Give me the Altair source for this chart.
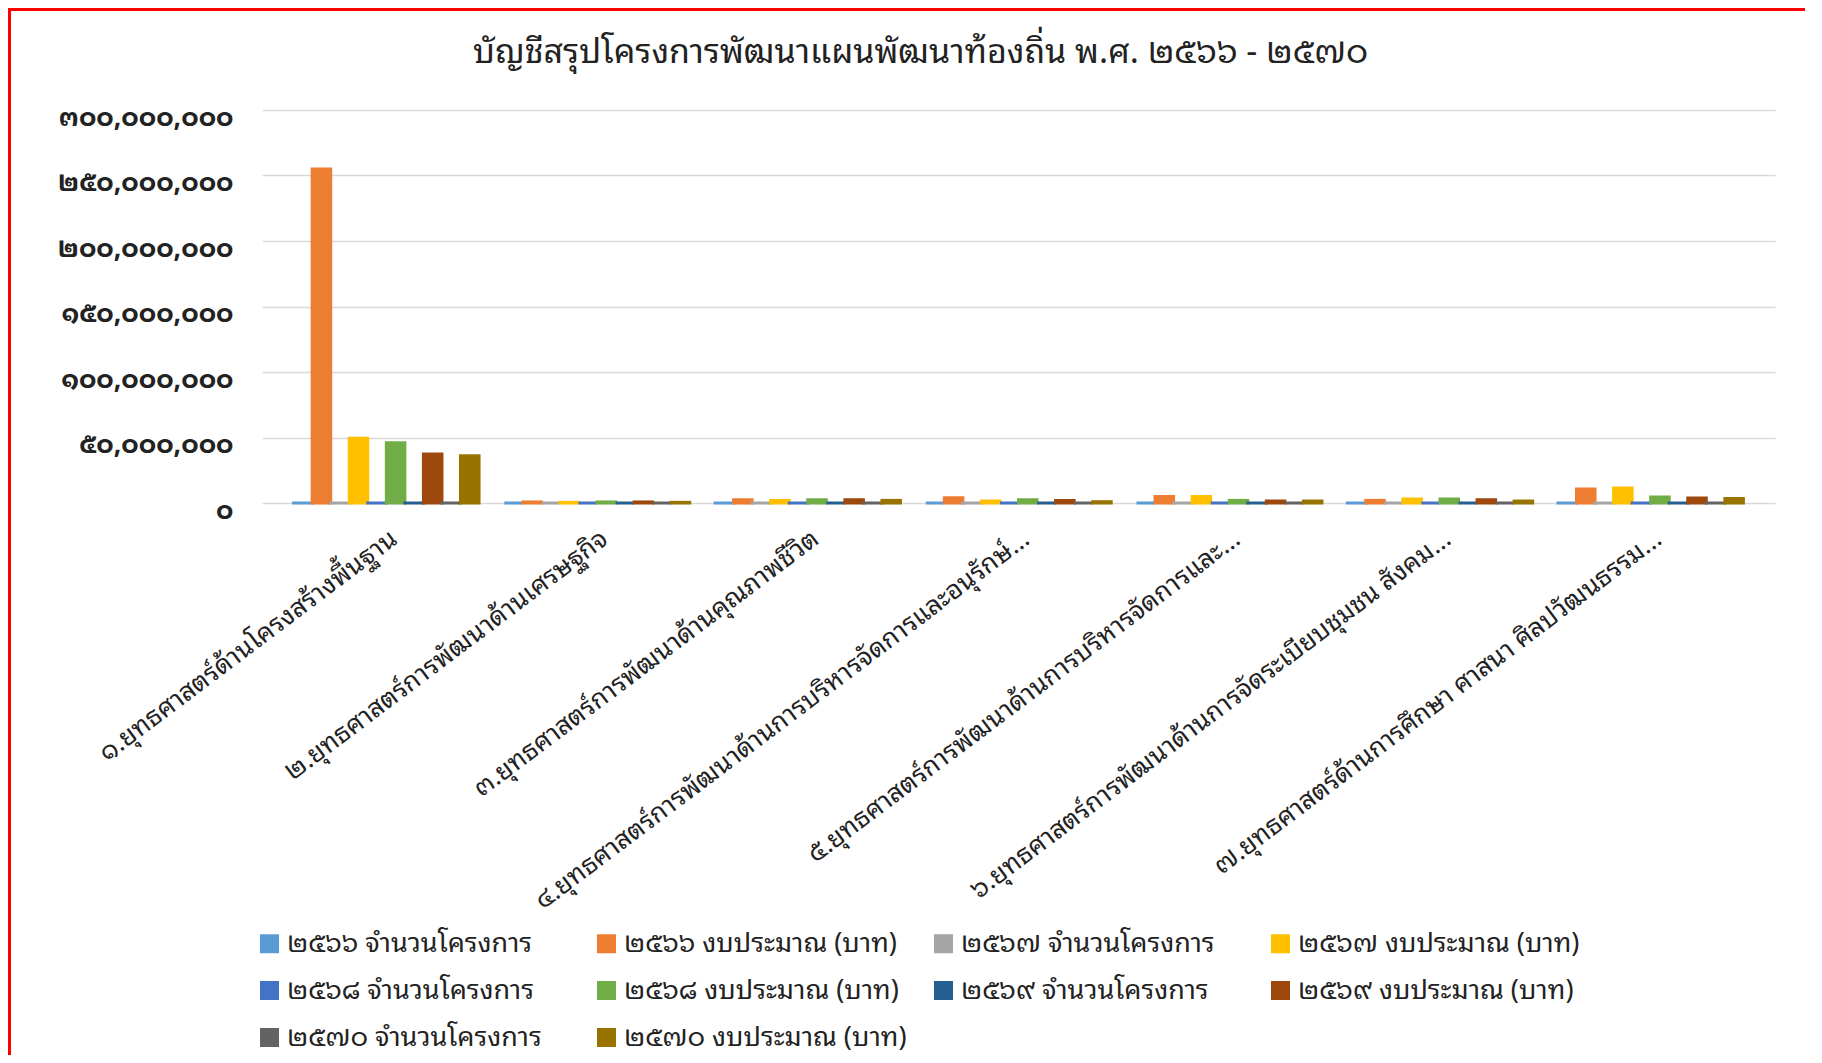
import altair as alt
import pandas as pd

categories = [
    "๑.ยุทธศาสตร์ด้านโครงสร้างพื้นฐาน",
    "๒.ยุทธศาสตร์การพัฒนาด้านเศรษฐกิจ",
    "๓.ยุทธศาสตร์การพัฒนาด้านคุณภาพชีวิต",
    "๔.ยุทธศาสตร์การพัฒนาด้านการบริหารจัดการและอนุรักษ์...",
    "๕.ยุทธศาสตร์การพัฒนาด้านการบริหารจัดการและ...",
    "๖.ยุทธศาสตร์การพัฒนาด้านการจัดระเบียบชุมชน  สังคม...",
    "๗.ยุทธศาสตร์ด้านการศึกษา  ศาสนา ศิลปวัฒนธรรม...",
]

series_names = [
    "๒๕๖๖ จำนวนโครงการ", "๒๕๖๖ งบประมาณ (บาท)",
    "๒๕๖๗ จำนวนโครงการ", "๒๕๖๗ งบประมาณ (บาท)",
    "๒๕๖๘ จำนวนโครงการ", "๒๕๖๘ งบประมาณ (บาท)",
    "๒๕๖๙ จำนวนโครงการ", "๒๕๖๙ งบประมาณ (บาท)",
    "๒๕๗๐ จำนวนโครงการ", "๒๕๗๐ งบประมาณ (บาท)",
]

series_colors = [
    "#5B9BD5", "#ED7D31", "#A5A5A5", "#FFC000", "#4472C4",
    "#70AD47", "#255E91", "#9E480E", "#636363", "#997300",
]

# values per series, one per category (counts are tiny next to budgets)
count_2566 = [60, 12, 20, 15, 20, 12, 25]
budget_2566 = [255000000, 800000, 2500000, 4000000, 5000000, 2000000, 10700000]
count_2567 = [55, 10, 18, 12, 18, 10, 22]
budget_2567 = [49500000, 500000, 2000000, 1500000, 5000000, 3000000, 11500000]
count_2568 = [50, 10, 18, 12, 16, 10, 20]
budget_2568 = [46000000, 800000, 2500000, 2500000, 2000000, 3000000, 4600000]
count_2569 = [45, 10, 16, 10, 15, 10, 18]
budget_2569 = [37500000, 800000, 2500000, 2000000, 1500000, 2500000, 3800000]
count_2570 = [42, 8, 15, 10, 14, 8, 16]
budget_2570 = [36000000, 500000, 2000000, 1000000, 1500000, 1500000, 3400000]

series_values = [count_2566, budget_2566, count_2567, budget_2567, count_2568,
                 budget_2568, count_2569, budget_2569, count_2570, budget_2570]

y_ticks = [0, 50000000, 100000000, 150000000, 200000000, 250000000, 300000000]

rows = []
for s, vals in zip(series_names, series_values):
    for c, v in zip(categories, vals):
        rows.append({"cat": c, "series": s, "value": v})
df = pd.DataFrame(rows)

thai_font = "'Noto Sans Thai Looped', 'Noto Sans Thai', 'Noto Sans', sans-serif"

label_expr = "format(datum.value, ',')"
for d, t in zip("0123456789", "๐๑๒๓๔๕๖๗๘๙"):
    label_expr = f"replace({label_expr}, regexp('{d}', 'g'), '{t}')"

color_scale = alt.Scale(domain=series_names, range=series_colors)

bars = alt.Chart(df).mark_bar(strokeWidth=3).encode(
    x=alt.X("cat:N", sort=categories, title=None,
            scale=alt.Scale(paddingInner=0.12, paddingOuter=0.15),
            axis=alt.Axis(labelAngle=-37, labelFontSize=26, labelFont=thai_font,
                          labelColor="#222222", labelPadding=22, labelLimit=0,
                          ticks=False, domain=False, grid=False)),
    xOffset=alt.XOffset("series:N", sort=series_names,
                        scale=alt.Scale(paddingInner=0, paddingOuter=0)),
    y=alt.Y("value:Q", title=None,
            scale=alt.Scale(domain=[0, 300000000], nice=False),
            axis=alt.Axis(values=y_ticks,
                          labelExpr=label_expr, labelFontSize=26, labelFont=thai_font,
                          labelFontWeight="bold",
                          labelColor="#222222", labelPadding=29, labelOffset=7,
                          ticks=False, domain=False, grid=True,
                          gridColor="#D9D9D9", gridWidth=1.5)),
    color=alt.Color("series:N", scale=color_scale, sort=series_names,
                    legend=alt.Legend(title=None, orient="none", legendX=-6, legendY=820,
                                      direction="horizontal",
                                      columns=4, gridAlign="all", symbolType="square",
                                      symbolSize=361, symbolStrokeWidth=0,
                                      labelFontSize=27, labelFont=thai_font,
                                      labelColor="#222222", columnPadding=23,
                                      rowPadding=19, labelLimit=0)),
    stroke=alt.Stroke("series:N", scale=color_scale, sort=series_names, legend=None),
)

frame_df = pd.DataFrame({"k": [0]})
frame_top = alt.Chart(frame_df).mark_rule(color="#FF0000", strokeWidth=3).encode(
    x=alt.value(-254), x2=alt.value(1543), y=alt.value(-100.5))
frame_left = alt.Chart(frame_df).mark_rule(color="#FF0000", strokeWidth=3).encode(
    x=alt.value(-252.5), y=alt.value(-102), y2=alt.value(945))

chart = alt.layer(bars, frame_top, frame_left).properties(
    width=1513,
    height=393,
    title=alt.TitleParams(
        "บัญชีสรุปโครงการพัฒนาแผนพัฒนาท้องถิ่น  พ.ศ. ๒๕๖๖ - ๒๕๗๐",
        font=thai_font, fontSize=34, fontWeight="normal", color="#222222",
        anchor="middle", dx=-98, dy=63, offset=0),
    autosize=alt.AutoSizeParams(type="none"),
    padding={"left": 254, "top": 102, "right": 30, "bottom": 552},
).configure_view(stroke=None)

chart.save("out.html", embed_options={"renderer": "svg", "actions": False})
